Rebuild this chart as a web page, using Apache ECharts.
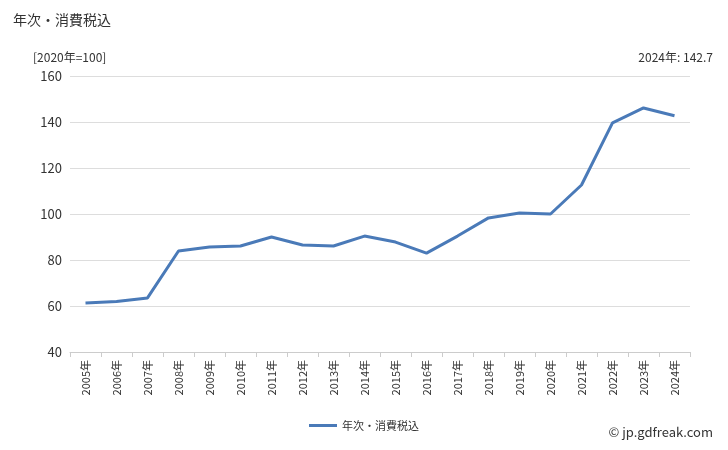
<!DOCTYPE html>
<html><head><meta charset="utf-8">
<script src="https://cdn.jsdelivr.net/npm/echarts@6/dist/echarts.min.js"></script>
<style>html,body{margin:0;padding:0;background:#fff}#c{width:728px;height:450px}</style>
</head><body><div id="c"></div>
<script>
const categories=['2005年','2006年','2007年','2008年','2009年','2010年','2011年','2012年','2013年','2014年','2015年','2016年','2017年','2018年','2019年','2020年','2021年','2022年','2023年','2024年'];
const values=[61.3,62,63.5,83.9,85.7,86.1,90,86.5,86.1,90.4,87.8,83,90.4,98.3,100.4,100,112.6,139.6,146.1,142.7];
const seriesName='年次・消費税込';
const F='"Noto Sans CJK JP","Noto Sans",sans-serif';
const chart=echarts.init(document.getElementById('c'));
chart.setOption({
 animation:false,
 textStyle:{fontFamily:F},
 title:[{text:'年次・消費税込',left:8,top:8,textStyle:{fontSize:14,fontWeight:'normal',color:'#333',fontFamily:F}},
  {text:'[2020年=100]',left:28,top:46,textStyle:{fontSize:12,fontWeight:'normal',color:'#333',fontFamily:F}},
  {text:'2024年: 142.7',right:10,top:46,textStyle:{fontSize:12,fontWeight:'normal',color:'#333',fontFamily:F}},
  {text:'© jp.gdfreak.com',right:10,bottom:6,textStyle:{fontSize:13,fontWeight:'normal',color:'#333',fontFamily:F}}],
 legend:{bottom:14,left:'center',icon:'rect',itemWidth:28,itemHeight:3,textStyle:{fontSize:11,color:'#333'},data:[seriesName]},
 grid:{left:70,right:38,top:76,bottom:98},
 xAxis:{type:'category',data:categories,boundaryGap:true,
  axisLine:{lineStyle:{color:'#ccc'}},axisTick:{show:true,lineStyle:{color:'#ccc'}},
  axisLabel:{rotate:90,fontSize:11,color:'#333',interval:0}},
 yAxis:{type:'value',min:40,max:160,interval:20,
  axisLabel:{fontSize:13,color:'#333'},
  splitLine:{lineStyle:{color:'#ddd'}},axisLine:{show:false},axisTick:{show:false}},
 series:[{name:seriesName,type:'line',data:values,symbol:'none',lineStyle:{color:'#4a7ab8',width:3},itemStyle:{color:'#4a7ab8'}}]
});
</script></body></html>
